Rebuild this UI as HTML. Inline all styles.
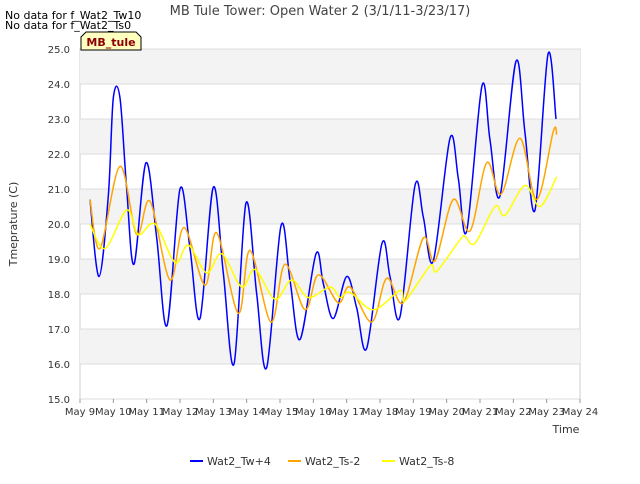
<!DOCTYPE html>
<html><head><meta charset="utf-8"><style>
body{margin:0;background:#fff;font-family:"DejaVu Sans","Liberation Sans",sans-serif;}
</style></head><body>
<svg width="640" height="480" xmlns="http://www.w3.org/2000/svg" font-family="DejaVu Sans, Liberation Sans, sans-serif">
<text x="5" y="19" font-size="11" fill="#000">No data for f_Wat2_Tw10</text>
<text x="5" y="29" font-size="11" fill="#000">No data for f_Wat2_Ts0</text>
<text x="320" y="15" font-size="13" fill="#444" text-anchor="middle">MB Tule Tower: Open Water 2 (3/1/11-3/23/17)</text>
<g id="plot"></g>
<g>
<path d="M81,50 L81,37 L86,32 L136,32 L141,37 L141,50 Z" fill="#ffffc0" stroke="#000" stroke-width="1"/>
<text x="111" y="46" font-size="11" font-weight="bold" fill="#8b0000" text-anchor="middle">MB_tule</text>
</g>
<text transform="translate(17,224) rotate(-90)" font-size="11" fill="#333" text-anchor="middle">Tmeprature (C)</text>
<text x="566" y="433" font-size="11" fill="#333" text-anchor="middle">Time</text>
<g id="legend"></g>
</svg>
<script>
const yTicks=[15,16,17,18,19,20,21,22,23,24,25];
const xTickLabels=["May 9","May 10","May 11","May 12","May 13","May 14","May 15","May 16","May 17","May 18","May 19","May 20","May 21","May 22","May 23","May 24"];
const seriesNames=["Wat2_Tw+4","Wat2_Ts-2","Wat2_Ts-8"];
const blueDays=[0.3,0.57,0.85,1.0,1.2,1.4,1.62,1.98,2.3,2.61,3.0,3.3,3.6,4.0,4.3,4.62,4.98,5.3,5.6,6.03,6.3,6.6,7.08,7.3,7.6,8.0,8.3,8.6,9.06,9.3,9.6,10.05,10.3,10.6,11.1,11.35,11.6,12.06,12.3,12.6,13.08,13.35,13.65,14.04,14.28];
const blueVals=[20.7,18.5,20.8,23.6,23.6,21.0,18.85,21.75,19.6,17.1,21.0,19.3,17.3,21.05,18.6,16.0,20.6,18.0,15.9,19.95,18.4,16.7,19.15,18.3,17.3,18.5,17.6,16.45,19.45,18.5,17.35,21.1,20.2,18.95,22.45,21.3,19.8,23.95,22.4,20.8,24.65,22.6,20.4,24.85,23.0];
const orangeDays=[0.3,0.6,1.2,1.7,2.1,2.7,3.12,3.75,4.1,4.75,5.1,5.73,6.15,6.75,7.15,7.75,8.1,8.75,9.2,9.7,10.3,10.65,11.2,11.7,12.2,12.63,13.2,13.7,14.2,14.3];
const orangeVals=[20.7,19.3,21.65,19.7,20.65,18.4,19.9,18.25,19.75,17.45,19.25,17.2,18.85,17.55,18.55,17.75,18.2,17.2,18.45,17.75,19.6,18.95,20.7,19.8,21.75,20.85,22.45,20.7,22.65,22.55];
const yellowDays=[0.3,0.75,1.4,1.75,2.25,2.85,3.25,3.8,4.25,4.85,5.25,5.85,6.35,6.85,7.5,7.8,8.1,8.8,9.6,9.75,10.5,10.7,11.4,11.55,11.85,12.45,12.75,13.35,13.8,14.3];
const yellowVals=[20.0,19.3,20.4,19.7,20.0,18.9,19.4,18.6,19.15,18.2,18.7,17.85,18.4,17.9,18.2,17.9,18.05,17.55,18.1,17.8,18.8,18.65,19.55,19.65,19.45,20.5,20.25,21.1,20.5,21.35];
const colors=["#0000ff","#ffa500","#ffff00"];
const X0=80,X1=580,Y0=399,Y1=49;
const xs=d=>X0+d*(X1-X0)/15;
const ys=v=>Y0-(v-15)*(Y0-Y1)/10;
const NS="http://www.w3.org/2000/svg";
const plot=document.getElementById("plot");
function mk(t,a,p){const e=document.createElementNS(NS,t);for(const k in a)e.setAttribute(k,a[k]);(p||plot).appendChild(e);return e;}
const bg=mk("rect",{x:X0,y:Y1,width:X1-X0,height:Y0-Y1,fill:"#fff",stroke:"#ccc"});


for(let i=0;i<10;i++){
 if(i%2===1){const b=mk("rect",{x:X0,y:ys(15+i+1),width:X1-X0,height:35,fill:"#f3f3f3"});
 
 }
}
yTicks.forEach(v=>{
 const g=mk("line",{x1:X0,x2:X1,y1:ys(v),y2:ys(v),stroke:"#ddd"});
 
 
 const t=mk("text",{x:X0-10,y:ys(v)+4,"font-size":10,"text-anchor":"end",fill:"#333"});
 t.textContent=v.toFixed(1);
 
 
});
xTickLabels.forEach((s,i)=>{
 const l=mk("line",{x1:xs(i),x2:xs(i),y1:Y0,y2:Y0+4,stroke:"#999"});
 
 
 const t=mk("text",{x:xs(i),y:Y0+16,"font-size":10,"text-anchor":"middle",fill:"#333"});
 t.textContent=s;
 
 
});
function spline(days,vals){
 const p=days.map((d,i)=>[xs(d),ys(vals[i])]);
 let s="M"+p[0][0]+","+p[0][1];
 for(let i=0;i<p.length-1;i++){
  const a=p[Math.max(i-1,0)],b=p[i],c=p[i+1],d=p[Math.min(i+2,p.length-1)];
  const c1=[b[0]+(c[0]-a[0])/6,b[1]+(c[1]-a[1])/6],c2=[c[0]-(d[0]-b[0])/6,c[1]-(d[1]-b[1])/6];
  s+=" C"+c1[0].toFixed(1)+","+c1[1].toFixed(1)+" "+c2[0].toFixed(1)+","+c2[1].toFixed(1)+" "+c[0].toFixed(1)+","+c[1].toFixed(1);
 }
 return s;
}
const series=[[blueDays,blueVals],[orangeDays,orangeVals],[yellowDays,yellowVals]];
series.forEach((s,i)=>{
 const p=mk("path",{d:spline(s[0],s[1]),fill:"none",stroke:colors[i],"stroke-width":1.5});
 
 
});
const leg=document.getElementById("legend");
const lx=[190,288,382];
seriesNames.forEach((n,i)=>{
 const g=mk("g",{},leg);
 
 
 mk("line",{x1:lx[i],x2:lx[i]+13,y1:461,y2:461,stroke:colors[i],"stroke-width":2},g);
 const t=mk("text",{x:lx[i]+17,y:465,"font-size":11,fill:"#333"},g);
 t.textContent=n;
});
</script>
</body></html>
